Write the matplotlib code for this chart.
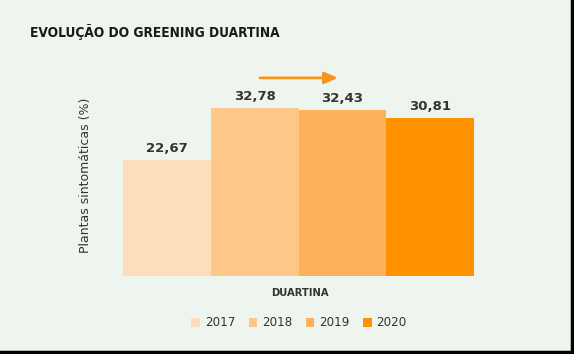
import matplotlib.pyplot as plt
from matplotlib.lines import Line2D
from matplotlib.patches import Patch

years = ["2017", "2018", "2019", "2020"]
values = [22.67, 32.78, 32.43, 30.81]
labels = ["22,67", "32,78", "32,43", "30,81"]
colors = ["#FEDDBC", "#FEC78A", "#FDB15A", "#FF9100"]
bg = "#EDF5EE"
txt = "#333333"

fig = plt.figure(figsize=(5.74, 3.54), dpi=100, facecolor=bg)
ax = fig.add_axes([123 / 574, 1 - 276 / 354, 351 / 574, 216 / 354])
ax.set_facecolor(bg)

x = range(len(years))
ax.bar(x, values, width=1.0, color=colors, label=years)
for xi, v, lab in zip(x, values, labels):
    ax.text(xi, v + 1.0, lab, ha="center", va="bottom", fontsize=9.5,
            fontweight="bold", color=txt)

ax.set_xlim(-0.5, 3.5)
ax.set_ylim(0, 42.2)
for s in ax.spines.values():
    s.set_visible(False)
ax.set_xticks([])
ax.set_yticks([])

# arrow over 2018-2019
ax.annotate("", xy=(1.95, 38.7), xytext=(1.06, 38.7),
            arrowprops=dict(arrowstyle="-|>,head_length=0.8,head_width=0.35",
                            color="#F7941D", lw=2, shrinkA=0, shrinkB=0))

fig.text(30 / 574, 1 - 32 / 354, "EVOLUÇÃO DO GREENING DUARTINA",
         family="DejaVu Sans", fontstretch="condensed", fontweight="bold",
         fontsize=9.8, color="#1a1a1a", va="center", ha="left")
fig.text(86 / 574, 1 - 175 / 354, "Plantas sintomáticas (%)", rotation=90,
         fontsize=9, color=txt, ha="center", va="center")
fig.text(300 / 574, 1 - 293 / 354, "DUARTINA", fontsize=7.2, fontweight="bold",
         color=txt, ha="center", va="center")

handles = [Patch(facecolor=c) for c in colors]
fig.legend(handles, years, loc="center", bbox_to_anchor=(299 / 574, 1 - 323 / 354),
           ncol=4, frameon=False, fontsize=8.6, handlelength=0.75, handleheight=0.75,
           handletextpad=0.4, columnspacing=1.1, labelcolor=txt)

# black border on right and bottom
fig.add_artist(Line2D([0, 572 / 574], [2 / 354, 2 / 354], color="black", lw=2.5))
fig.add_artist(Line2D([572 / 574, 572 / 574], [2 / 354, 1], color="black", lw=2.5))

fig.savefig("out.png", dpi=100, facecolor=bg)
